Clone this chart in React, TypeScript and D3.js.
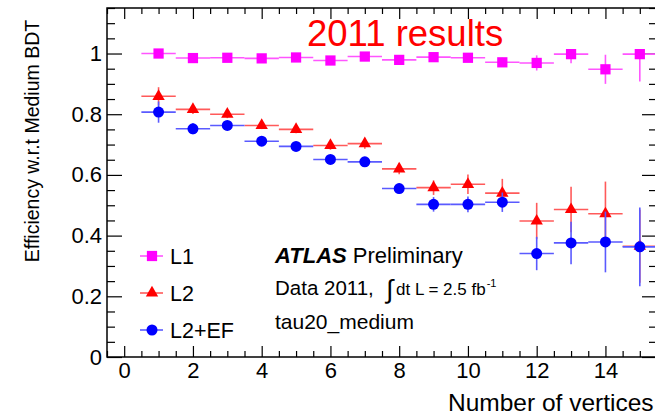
import React, { useEffect, useRef } from "react";
import * as d3 from "d3";

const settings = {
  width: 655,
  height: 415,
  left: 107,
  right: 657,
  top: 8,
  bottom: 357,
};

const FONT = "'Liberation Sans', Arial, Helvetica, sans-serif";

// number of vertices (bin centres)
const vertices = [1, 2, 3, 4, 5, 6, 7, 8, 9, 10, 11, 12, 13, 14, 15];

// L1 efficiency
const l1 = [1.0, 0.985, 0.986, 0.984, 0.987, 0.977, 0.99, 0.979, 0.988, 0.986, 0.971, 0.969, 0.998, 0.948, 0.998];
const l1ErrLo = [0.004, 0.004, 0.004, 0.004, 0.005, 0.006, 0.006, 0.008, 0.009, 0.012, 0.015, 0.025, 0.03, 0.048, 0.09];
const l1ErrHi = [0.002, 0.004, 0.004, 0.004, 0.005, 0.006, 0.006, 0.008, 0.009, 0.012, 0.015, 0.025, 0.002, 0.048, 0.002];

// L2 efficiency
const l2 = [0.859, 0.816, 0.8, 0.763, 0.75, 0.697, 0.703, 0.62, 0.558, 0.569, 0.54, 0.448, 0.486, 0.472, 0.365];
const l2Err = [0.03, 0.015, 0.013, 0.012, 0.013, 0.014, 0.017, 0.018, 0.024, 0.032, 0.047, 0.06, 0.075, 0.106, 0.12];

// L2+EF efficiency
const ef = [0.807, 0.752, 0.763, 0.711, 0.694, 0.651, 0.643, 0.555, 0.503, 0.503, 0.51, 0.341, 0.376, 0.379, 0.363];
const efErr = [0.035, 0.018, 0.013, 0.012, 0.013, 0.014, 0.016, 0.017, 0.024, 0.026, 0.032, 0.055, 0.07, 0.1, 0.13];

const xMajor = [0, 2, 4, 6, 8, 10, 12, 14];
const yMajor = [0, 0.2, 0.4, 0.6, 0.8, 1];

const legendItems = ["L1", "L2", "L2+EF"];

export default function App() {
  const svgRef = useRef(null);
  useEffect(() => {
    const svg = d3.select(svgRef.current);
    svg.selectAll("*").remove();

    const x = d3
      .scaleLinear()
      .domain([-0.5, 15.5])
      .range([settings.left, settings.right]);
    const y = d3
      .scaleLinear()
      .domain([0, 1.15])
      .range([settings.bottom, settings.top]);

    const xMinor = d3.range(-0.5, 15.51, 0.5).filter((v) => v % 2 !== 0);
    const yMinor = d3.range(0, 1.151, 0.05).filter((v) => Math.abs(v * 5 - Math.round(v * 5)) > 1e-6);

    const axes = svg.append("g").attr("font-family", FONT);

    const clean = (g) => {
      g.select(".domain").remove();
      g.selectAll("line").attr("stroke", "#000").attr("stroke-width", 1.2);
    };
    const labelStyle = (g) =>
      g.selectAll("text").attr("font-size", 22).attr("fill", "#000").attr("font-family", FONT);

    // bottom
    axes
      .append("g")
      .attr("transform", `translate(0,${settings.bottom})`)
      .call(d3.axisBottom(x).tickValues(xMajor).tickSize(-11).tickPadding(5).tickFormat(d3.format("d")))
      .call(clean)
      .call(labelStyle);
    axes
      .append("g")
      .attr("transform", `translate(0,${settings.bottom})`)
      .call(d3.axisBottom(x).tickValues(xMinor).tickSize(-6).tickFormat(() => ""))
      .call(clean);
    // top
    axes
      .append("g")
      .attr("transform", `translate(0,${settings.top})`)
      .call(d3.axisTop(x).tickValues(xMajor).tickSize(-11).tickFormat(() => ""))
      .call(clean);
    axes
      .append("g")
      .attr("transform", `translate(0,${settings.top})`)
      .call(d3.axisTop(x).tickValues(xMinor).tickSize(-6).tickFormat(() => ""))
      .call(clean);
    // left
    axes
      .append("g")
      .attr("transform", `translate(${settings.left},0)`)
      .call(d3.axisLeft(y).tickValues(yMajor).tickSize(-15).tickPadding(5).tickFormat(d3.format("~g")))
      .call(clean)
      .call(labelStyle);
    axes
      .append("g")
      .attr("transform", `translate(${settings.left},0)`)
      .call(d3.axisLeft(y).tickValues(yMinor).tickSize(-8).tickFormat(() => ""))
      .call(clean);
    // right
    axes
      .append("g")
      .attr("transform", `translate(${settings.right},0)`)
      .call(d3.axisRight(y).tickValues(yMajor).tickSize(-15).tickFormat(() => ""))
      .call(clean);
    axes
      .append("g")
      .attr("transform", `translate(${settings.right},0)`)
      .call(d3.axisRight(y).tickValues(yMinor).tickSize(-8).tickFormat(() => ""))
      .call(clean);

    // frame
    svg
      .append("rect")
      .attr("x", settings.left)
      .attr("y", settings.top)
      .attr("width", settings.right - settings.left)
      .attr("height", settings.bottom - settings.top)
      .attr("fill", "none")
      .attr("stroke", "#000")
      .attr("stroke-width", 1.5);

    const series = [
      { name: "L1", vals: l1, lo: l1ErrLo, hi: l1ErrHi, color: "#ff00ff", bar: "#ff55ff", shape: d3.symbolSquare, size: 105 },
      { name: "L2", vals: l2, lo: l2Err, hi: l2Err, color: "#ff0000", bar: "#ff5a5a", shape: d3.symbolTriangle, size: 66 },
      { name: "L2+EF", vals: ef, lo: efErr, hi: efErr, color: "#0000ff", bar: "#5a5aff", shape: d3.symbolCircle, size: 95 },
    ];

    const plot = svg.append("g");
    series.forEach((s) => {
      const g = plot.append("g");
      g.selectAll("line.h")
        .data(vertices)
        .join("line")
        .attr("class", "h")
        .attr("x1", (d) => x(d - 0.5))
        .attr("x2", (d) => x(d + 0.5))
        .attr("y1", (d, i) => y(s.vals[i]))
        .attr("y2", (d, i) => y(s.vals[i]))
        .attr("stroke", s.bar)
        .attr("stroke-width", 1.6);
      g.selectAll("line.v")
        .data(vertices)
        .join("line")
        .attr("class", "v")
        .attr("x1", (d) => x(d))
        .attr("x2", (d) => x(d))
        .attr("y1", (d, i) => y(s.vals[i] - s.lo[i]))
        .attr("y2", (d, i) => y(s.vals[i] + s.hi[i]))
        .attr("stroke", s.bar)
        .attr("stroke-width", 1.6);
      g.selectAll("path")
        .data(vertices)
        .join("path")
        .attr("d", d3.symbol().type(s.shape).size(s.size))
        .attr("transform", (d, i) => `translate(${x(d)},${y(s.vals[i])})`)
        .attr("fill", s.color);
    });

    // legend
    const legend = svg.append("g").attr("font-family", FONT);
    const legendY = d3.scalePoint().domain(legendItems).range([256, 330]);
    series.forEach((s) => {
      const ly = legendY(s.name);
      legend
        .append("line")
        .attr("x1", 140)
        .attr("x2", 163)
        .attr("y1", ly)
        .attr("y2", ly)
        .attr("stroke", s.bar)
        .attr("stroke-width", 1.6);
      legend
        .append("path")
        .attr("d", d3.symbol().type(s.shape).size(s.size)())
        .attr("transform", `translate(152,${ly})`)
        .attr("fill", s.color);
      legend
        .append("text")
        .attr("x", 170)
        .attr("y", ly + 7.5)
        .attr("font-size", 21.5)
        .text(s.name);
    });

    // labels
    const labels = svg.append("g").attr("font-family", FONT).attr("fill", "#000");
    labels
      .append("text")
      .attr("x", 307)
      .attr("y", 46)
      .attr("font-size", 36.5)
      .attr("fill", "#ff0000")
      .text("2011 results");

    const atlas = labels.append("text").attr("x", 275).attr("y", 263).attr("font-size", 22);
    atlas.append("tspan").attr("font-weight", "bold").attr("font-style", "italic").text("ATLAS");
    atlas.append("tspan").text(" Preliminary");

    labels.append("text").attr("x", 275).attr("y", 295).attr("font-size", 20.5).text("Data 2011,");
    labels.append("text").attr("x", 386).attr("y", 298).attr("font-size", 26).text("\u222B");
    const lumi = labels.append("text").attr("x", 396).attr("y", 295).attr("font-size", 17);
    lumi.append("tspan").text("dt L = 2.5 fb");
    lumi.append("tspan").attr("font-size", 11).attr("dx", 1).attr("dy", -8).text("-1");

    labels.append("text").attr("x", 275).attr("y", 329).attr("font-size", 21).text("tau20_medium");

    labels
      .append("text")
      .attr("x", 448)
      .attr("y", 411)
      .attr("font-size", 24.5)
      .text("Number of vertices");

    labels
      .append("text")
      .attr("transform", "translate(39,141) rotate(-90)")
      .attr("text-anchor", "middle")
      .attr("font-size", 19.5)
      .text("Efficiency w.r.t Medium BDT");
  }, []);

  return (
    <svg
      ref={svgRef}
      width={settings.width}
      height={settings.height}
      style={{ position: "absolute", left: 0, top: 0, background: "#fff" }}
    ></svg>
  );
}
